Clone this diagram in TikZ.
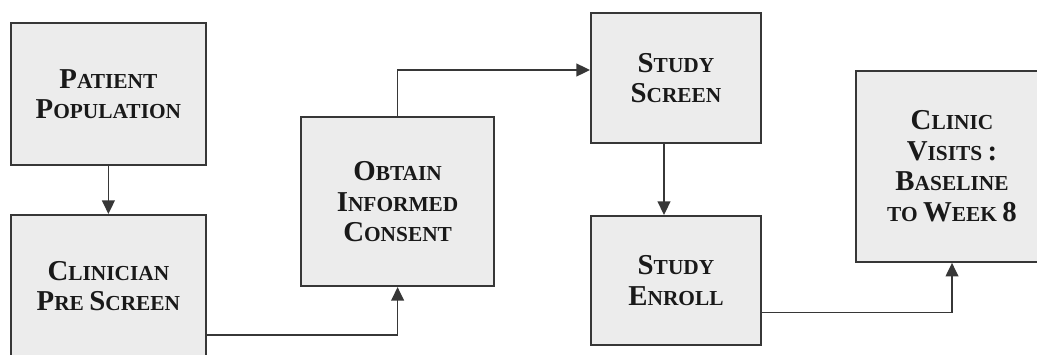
\documentclass[tikz,border=0pt]{standalone}
\usepackage{fontspec}
\newfontfamily\caixafont{Liberation Serif}
\definecolor{cinzaCaixa}{RGB}{236,236,236}
\definecolor{cinzaLinha}{RGB}{55,55,55}
\definecolor{cinzaTexto}{RGB}{25,25,25}
\usetikzlibrary{arrows.meta,positioning}
\newcommand\Ini[1]{{\fontsize{20.5}{21.7}\selectfont #1}}
\tikzset{
  caixa/.style={rectangle, draw=cinzaLinha, line width=1.4pt, fill=cinzaCaixa,
                align=center, text=cinzaTexto,
                font=\caixafont\bfseries\fontsize{15.2}{21.7}\selectfont},
  seta/.style={-{Triangle[length=0.34cm, width=0.32cm]}, line width=1.1pt, cinzaLinha},
}

\begin{document}
\begin{tikzpicture}
  \useasboundingbox (0,0) rectangle (25.925,8.85);
  \node[caixa, minimum width=4.875cm, minimum height=3.55cm] (a) at (2.71,6.5) {\Ini{P}ATIENT\\\Ini{P}OPULATION};
  \node[caixa, minimum width=4.875cm, minimum height=3.55cm, below=1.2cm of a] (b) {\Ini{C}LINICIAN\\\Ini{P}RE \Ini{S}CREEN};
  \node[caixa, minimum width=4.825cm, minimum height=4.225cm] (c) at (9.94,3.81) {\Ini{O}BTAIN\\\Ini{I}NFORMED\\\Ini{C}ONSENT};
  \node[caixa, minimum width=4.25cm, minimum height=3.25cm] (d) at (16.9,6.9) {\Ini{S}TUDY\\\Ini{S}CREEN};
  \node[caixa, minimum width=4.25cm, minimum height=3.225cm, below=1.775cm of d] (e) {\Ini{S}TUDY\\\Ini{E}NROLL};
  \node[caixa, minimum width=4.8cm, minimum height=4.775cm] (f) at (23.8,4.69) {\Ini{C}LINIC\\\Ini{V}ISITS \Ini{:}\\\Ini{B}ASELINE\\TO \Ini{W}EEK \Ini{8}};
  \draw[seta] (a)--(b);
  \draw[seta] ([yshift=-1.225cm]b.east) -| (c.south);
  \draw[seta] (c.north) |- ([yshift=0.2cm]d.west);
  \draw[seta] ([xshift=-0.3cm]d.south) -- ([xshift=-0.3cm]e.north);
  \draw[seta] ([yshift=-0.8cm]e.east) -| (f.south);
\end{tikzpicture}
\end{document}
